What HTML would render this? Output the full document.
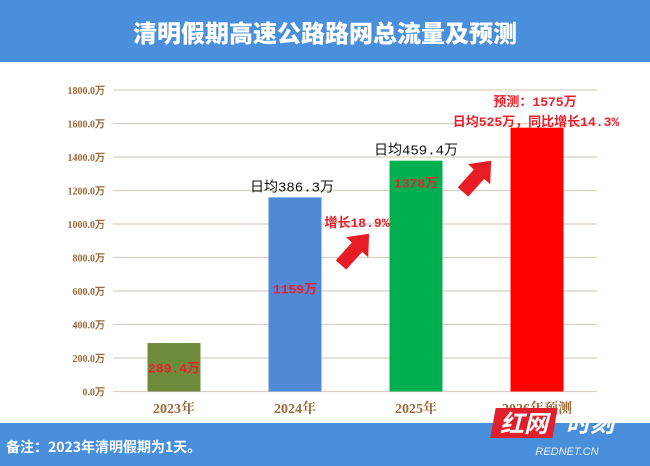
<!DOCTYPE html>
<html><head><meta charset="utf-8">
<style>
body{margin:0;width:650px;height:466px;overflow:hidden;background:#fff;font-family:"Liberation Sans","Noto Sans CJK SC",sans-serif;}
svg{display:block}
</style></head>
<body>
<svg width="650" height="466">
<rect x="0" y="0" width="650" height="62" fill="#4a8fdc"/>
<text x="325" y="42" text-anchor="middle" font-size="24" font-weight="900" fill="#fff" font-family="'Noto Sans CJK SC',sans-serif">清明假期高速公路路网总流量及预测</text>
<g id="grid"></g>
<g id="bars"></g>
<g id="ann"></g>
<rect x="0" y="423" width="650" height="43" fill="#4a8fdc"/>
<text x="6" y="452" font-size="14" font-weight="bold" fill="#fff" font-family="'Noto Sans CJK SC',sans-serif">备注：2023年清明假期为1天。</text>
<g>
<rect x="493" y="408" width="62" height="30" fill="#e0202a" transform="skewX(-10)" transform-origin="524 423"/>
<text x="524" y="432" text-anchor="middle" font-size="24" font-weight="bold" font-style="italic" fill="#fff" font-family="'Noto Sans CJK SC',sans-serif">红网</text>
<text x="590" y="432" text-anchor="middle" font-size="24" font-weight="bold" font-style="italic" fill="#fff" font-family="'Noto Sans CJK SC',sans-serif">时刻</text>
<text x="567" y="455" text-anchor="middle" font-size="11" font-style="italic" fill="#e8f0fb">REDNET.CN</text>
</g>
</svg>
<script>
const categories=["2023年","2024年","2025年","2026年预测"];
const values=[289.4,1159,1378,1575];
const valueLabels=["289.4万","1159万","1378万",""];
const dailyLabels=["","日均386.3万","日均459.4万",""];
const colors=["#6e8b3d","#5089d6","#00b050","#ff0000"];
const ticks=[0,200,400,600,800,1000,1200,1400,1600,1800];
const NS="http://www.w3.org/2000/svg";
const y0=391.5,k=33.5/200,x0=113,x1=597,bw=53;
const yS=v=>y0-v*k;
const xC=i=>174+i*121;
function mk(t,a,p){const e=document.createElementNS(NS,t);for(const n in a)e.setAttribute(n,a[n]);p.appendChild(e);return e;}
const g=document.getElementById('grid');
ticks.forEach(t=>{
 const l=mk('line',{x1:x0,x2:x1,y1:yS(t),y2:yS(t),stroke:'#d9cfc4','stroke-width':1.2},g);
 
 
 const tx=mk('text',{x:105,y:yS(t)+4,'text-anchor':'end','font-size':10,'font-weight':'bold',fill:'#9a6a3a','font-family':"'Liberation Serif',serif"},g);
 tx.textContent=t.toFixed(1)+'万';
 
 
});
const b=document.getElementById('bars');
values.forEach((v,i)=>{
 const r=mk('rect',{x:xC(i)-bw/2,y:yS(v),width:bw,height:v*k,fill:colors[i]},b);
 
 
 const c=mk('text',{x:xC(i),y:413,'text-anchor':'middle','font-size':14,'font-weight':'bold',fill:'#9a6a3a','font-family':"'Liberation Serif','Noto Serif CJK SC',serif"},b);
 c.textContent=categories[i];
 
 
 if(valueLabels[i]){
  const vl=mk('text',{x:xC(i),y:i==0?y0-19:yS(v)+(i==1?96:27),'text-anchor':'middle','font-size':13,'font-weight':'bold',fill:'#e8202a','font-family':"'Liberation Mono','Noto Sans CJK SC',monospace"},b);
  vl.textContent=valueLabels[i];
  
  
 }
 if(dailyLabels[i]){
  const d=mk('text',{x:xC(i)+(i==1?-3:0),y:yS(v)-6,'text-anchor':'middle','font-size':14,fill:'#111','font-family':"'Liberation Mono','Noto Sans CJK SC',monospace"},b);
  d.textContent=dailyLabels[i];
  
  
 }
});
const a=document.getElementById('ann');
function arrow(x,y,ang,name){
 const p=mk('polygon',{points:"0,-7 24,-7 24,-15 42,0 24,15 24,7 0,7",fill:'#e81c24',transform:`translate(${x},${y}) rotate(${ang})`},a);
 
 
}
arrow(341,265,-48,'growth-arrow-1');
arrow(463,192,-48,'growth-arrow-2');
function txt(s,x,y,name){const t=mk('text',{x:x,y:y,'text-anchor':'middle','font-size':13,'font-weight':'bold',fill:'#e8202a','font-family':"'Liberation Mono','Noto Sans CJK SC',monospace"},a);t.textContent=s;
 
 }
txt('增长18.9%',357,227,'growth-label-2025');
txt('预测：1575万',535,106,'forecast-label');
txt('日均525万，同比增长14.3%',536,126,'forecast-growth-label');
</script>
</body></html>
